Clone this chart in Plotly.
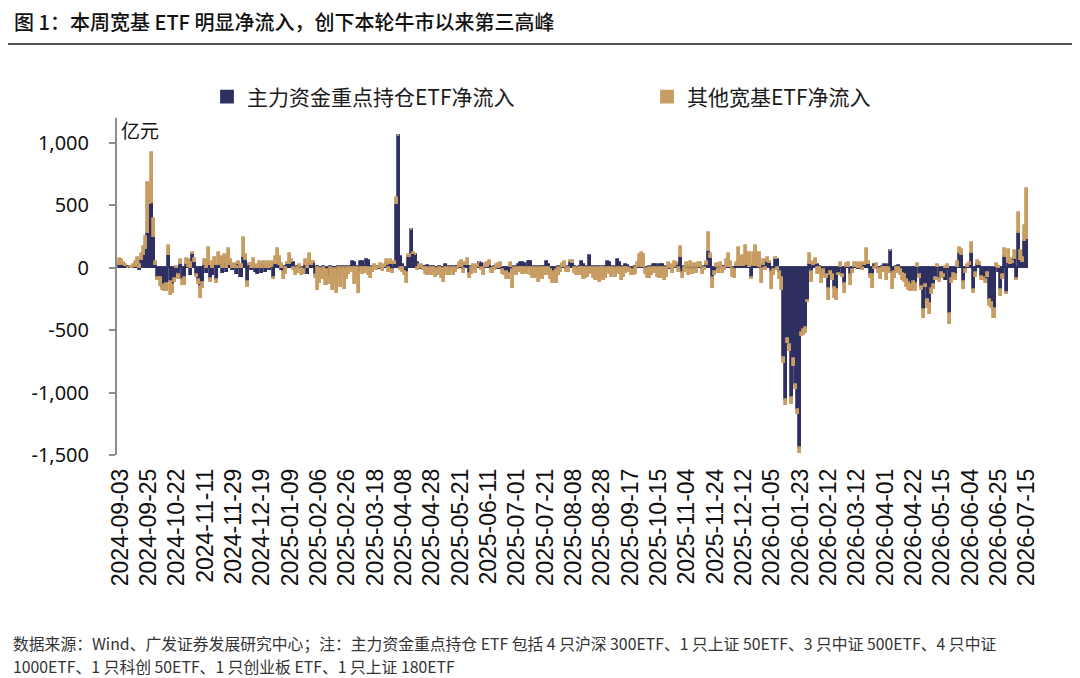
import plotly.graph_objects as go

# daily net inflow, 100m CNY (亿元), one value per trading day from 2024-09-03
main_etf = [
    25, 30, 20, 15, 10, 5, -5, 5, 10, 30,
    -20, 60, 100, 150, 280, 510, 520, 250, 20, -80,
    -80, -150, -140, -130, 105, -110, -140, -90, -30, -60,
    30, -100, -80, 30, 10, -60, 110, 50, -60, -100,
    -150, -120, 20, -40, 20, -90, -60, 20, -100, 20,
    30, -40, 40, -30, 30, 20, -20, 10, -50, 30,
    -70, 90, 60, -110, 20, -20, 10, -30, -50, 15,
    -40, 20, -30, 10, -20, 10, -80, 30, 40, 20,
    -20, -30, 10, 30, 30, 50, 40, -20, 10, 5,
    -10, -20, 20, -50, 30, 20, 40, -60, 10, -10,
    -30, 10, -20, -70, 10, -20, -10, -30, 10, -20,
    10, -20, 5, -10, 10, 45, 40, 10, -30, 50,
    50, 10, 60, 55, -10, 10, -5, 10, -10, 10,
    -5, 10, 20, 10, 30, -20, 30, 510, 1055, 90,
    20, -30, -40, 90, 300, 110, 100, 40, 10, -10,
    10, 10, 15, -10, 10, 5, -10, -20, 10, -10,
    -20, 25, 10, -15, 10, -10, 5, 10, 10, 5,
    -10, 20, 20, -50, 10, -10, 10, 10, 35, 30,
    -10, 10, 5, 20, -10, 10, 5, -10, 10, -20,
    -40, -30, -50, 10, -20, 10, -10, 20, 35, 40,
    30, -10, 50, 45, -10, 10, -10, 5, -10, 10,
    5, 45, 20, -20, -40, -30, -20, 10, -10, 10,
    10, -10, 10, 45, 40, 10, -10, 10, 45, 20,
    10, -10, 95, 10, -10, 5, -10, 10, -5, 10,
    -10, 50, 40, -10, 10, -20, 60, 40, -10, 10,
    20, 15, -10, -20, -30, 10, 10, 20, 10, 10,
    -10, -20, 10, -10, 25, 25, -10, 25, 20, -10,
    10, 10, -10, 10, 10, 20, 20, 85, -40, 10,
    5, -10, 10, -10, 10, -10, 10, 5, -10, 10,
    20, 135, 80, -80, -30, 10, -10, 10, 5, 10,
    10, 10, 10, -10, -20, 15, 20, 15, 15, 20,
    20, 10, -80, 15, 20, 15, 10, -10, 20, 55,
    50, 40, -30, -20, 70, 60, -30, -80, -720, -1060,
    -570, -620, -1040, -730, -940, -1140, -1445, -520, -500, -480,
    -265, 30, -30, 20, 30, 20, 10, -40, -20, -60,
    -170, -30, -60, -160, -180, -50, 10, -60, -130, 10,
    10, -60, -20, 10, 10, -10, 15, 30, 20, 40,
    30, -60, -60, 25, 10, -10, -20, 10, 20, 10,
    20, 135, -40, -30, 10, 15, -20, -50, -60, -100,
    -120, -140, -110, -130, 10, -60, -150, -340, -140, -260,
    -290, -170, -140, -80, 10, -90, -40, -60, -100, -20,
    -370, -90, -50, -60, 10, 120, 100, -110, -20, 10,
    20, 120, -180, -40, 25, 20, -70, -80, -100, -40,
    -260, -280, -330, 10, -30, -180, -60, 85, -200, 40,
    30, 40, 70, -90, 280, 60, 50, 215, 230,
]

other_etf = [
    45, 30, 20, 10, -5, 5, 10, 20, 40, 50,
    20, 50, 70, 100, 400, 160, 400, 140, 30, -20,
    -65, -30, -50, -60, 70, -110, -60, -20, 10, -30,
    30, -40, -60, 40, 50, 40, 10, 20, -10, -30,
    -90, -40, 40, 60, 140, -20, 50, 60, -20, 100,
    60, 80, 60, 90, 120, 40, 30, 20, 10, 20,
    20, 150, 40, -40, 10, 30, 60, 20, 10, 30,
    10, 30, 20, 40, 20, 40, -10, 60, 110, 70,
    30, -60, -50, 10, 80, 10, -20, -40, -40, 20,
    -50, -30, 40, 20, 80, 30, 10, -20, -180, -110,
    -60, -90, -120, -40, -130, -160, -110, -170, -80, -130,
    -60, -150, -90, -40, -20, -30, -130, -80, -170, -20,
    -50, -40, -10, -60, -70, -30, 20, -20, 10, 20,
    -20, 10, 40, -30, 30, -20, 20, 50, 0, -20,
    -30, -30, -80, 10, 0, 10, 0, -20, 10, 20,
    -20, -50, -60, -40, -55, -30, -60, -40, -50, -70,
    -90, -30, -60, -40, -20, -50, -30, -10, 30, 50,
    -30, 20, 50, -30, -50, 20, -40, 10, 5, -20,
    -50, 20, 30, 35, -30, -20, 20, 30, 25, -30,
    -20, -60, -40, 25, -140, -40, -50, -30, -20, -50,
    -30, -40, -20, -60, -70, -80, -60, -110, -70, -90,
    -60, -30, -60, -70, -80, -90, -100, -60, -20, 20,
    35, -20, -30, 10, 15, -40, -50, -40, -60, -90,
    -80, -60, -40, -50, -70, -100, -90, -110, -80, -100,
    -70, -30, -50, -60, -40, -50, -30, -50, -90, -70,
    -40, -30, -20, -40, -30, -50, 30, 80, 110, 90,
    -40, -60, -80, -50, -30, -40, -60, -80, -60, -90,
    -70, 30, 20, -40, 40, 20, -30, 80, -40, -30,
    30, -50, 40, -40, 20, -30, 30, 30, -40, -20,
    30, 140, 30, -80, -30, 20, -30, 30, -40, -20,
    50, 100, 40, -60, -60, 20, 140, 60, 80, 155,
    100, 110, -10, 100, 155, 100, 110, -110, 40, -20,
    30, 10, -140, -40, 10, -20, -60, -100, -40, -40,
    -30, -50, -55, -60, -30, -35, -35, -30, -40, -40,
    -10, 80, -80, 30, 40, -50, -40, -80, -30, -20,
    -90, -30, -40, -80, -80, -10, 30, -10, -70, 20,
    30, -80, -20, 30, 25, 30, 20, -20, 20, 110,
    20, -20, -100, -10, 20, -30, -70, -30, -30, -100,
    -40, 0, -130, -50, -40, -30, -40, -50, -50, -50,
    -60, -50, -60, -60, 20, -20, -30, -60, -10, -60,
    -80, -40, -30, -20, 10, -20, -40, -10, 10, 20,
    -80, -30, -40, -40, 40, 40, 40, -60, -20, 15,
    20, 80, -20, -30, 30, 15, -30, -20, -20, -30,
    -50, -40, -70, 20, 10, -45, -30, 65, -10, 100,
    40, 10, 66, -10, 160, 76, 30, 120, 400,
]

tick_labels = [
    "2024-09-03", "2024-09-25", "2024-10-22", "2024-11-11", "2024-11-29",
    "2024-12-19", "2025-01-09", "2025-02-06", "2025-02-26", "2025-03-18",
    "2025-04-08", "2025-04-28", "2025-05-21", "2025-06-11", "2025-07-01",
    "2025-07-21", "2025-08-08", "2025-08-28", "2025-09-17", "2025-10-15",
    "2025-11-04", "2025-11-24", "2025-12-12", "2026-01-05", "2026-01-23",
    "2026-02-12", "2026-03-12", "2026-04-01", "2026-04-22", "2026-05-15",
    "2026-06-04", "2026-06-25", "2026-07-15",
]
label_step = 14  # one date label every 14 trading days

y_ticks = [-1500, -1000, -500, 0, 500, 1000]
y_tick_text = ["-1,500", "-1,000", "-500", "0", "500", "1,000"]

NAVY = "#2D3061"
TAN = "#C89D63"
GREY = "#8C8C8C"

# the page body has an 8px margin, so the figure is drawn 8px in from the window corner
OFF = 8
W, H = 1080 - OFF, 678 - OFF
ML, MR, MT, MB = 117 - OFF, 43, 118 - OFF, 223
PW, PH = W - ML - MR, H - MT - MB
Y_MIN, Y_MAX = -1500, 1200


def px_x(px):
    return (px - OFF - ML) / PW


def px_y(py):
    return (H - MB - (py - OFF)) / PH


days = list(range(len(main_etf)))

fig = go.Figure()
fig.add_trace(go.Bar(x=days, y=main_etf, name="主力资金重点持仓ETF净流入", legend="legend",
                     marker=dict(color=NAVY, line=dict(color=NAVY, width=1.8))))
fig.add_trace(go.Bar(x=days, y=other_etf, name="其他宽基ETF净流入", legend="legend2",
                     marker=dict(color=TAN, line=dict(color=TAN, width=1.8))))

legend_font = dict(family="Noto Sans CJK SC", size=21, color="#1a1a1a")
x_range = [-1.5, 453]
fig.update_layout(
    width=W, height=H, autosize=False, showlegend=True,
    margin=dict(l=ML, r=MR, t=MT, b=MB, autoexpand=False),
    paper_bgcolor="white", plot_bgcolor="white",
    barmode="relative", bargap=0,
    font=dict(family="Noto Sans CJK SC", color="#1a1a1a"),
    title=dict(text="图 1：本周宽基 ETF 明显净流入，创下本轮牛市以来第三高峰",
               xref="container", yref="container", x=(14 - OFF) / W, y=1 - (23 - OFF) / H,
               xanchor="left", yanchor="middle",
               font=dict(family="Noto Sans CJK SC", size=20, color="#111111", weight=500)),
    legend=dict(orientation="h", xref="paper", yref="paper", visible=True,
                x=px_x(207), y=px_y(97), xanchor="left", yanchor="middle",
                bgcolor="rgba(0,0,0,0)", font=legend_font),
    legend2=dict(orientation="h", xref="paper", yref="paper", visible=True,
                 x=px_x(647), y=px_y(97), xanchor="left", yanchor="middle",
                 bgcolor="rgba(0,0,0,0)", font=legend_font),
    xaxis=dict(range=x_range, showline=False, showgrid=False, zeroline=False,
               automargin=False,
               tickmode="array", tickvals=[i * label_step for i in range(len(tick_labels))],
               ticktext=tick_labels, tickangle=-90, ticks="", ticklabelstandoff=8,
               tickfont=dict(family="Liberation Sans", size=23, color="#111111")),
    xaxis2=dict(range=x_range, overlaying="x", anchor="free", automargin=False,
                position=(0 - Y_MIN) / (Y_MAX - Y_MIN), side="bottom",
                showline=True, linecolor=GREY, linewidth=2.5, showgrid=False, zeroline=False,
                ticks="outside", ticklen=6, tickwidth=2, tickcolor=GREY,
                tickmode="linear", tick0=18, dtick=20, showticklabels=False),
    yaxis=dict(range=[Y_MIN, Y_MAX], showline=True, linecolor=GREY, linewidth=2,
               automargin=False,
               showgrid=False, zeroline=False, ticks="outside", ticklen=6, tickwidth=2,
               tickcolor=GREY, tickmode="array", tickvals=y_ticks, ticktext=y_tick_text,
               ticklabelstandoff=16,
               tickfont=dict(family="Noto Sans", size=20, color="#111111")),
    shapes=[dict(type="line", xref="paper", yref="paper",
                 x0=px_x(0), x1=px_x(1080), y0=px_y(44), y1=px_y(44),
                 line=dict(color="#555555", width=2))],
    annotations=[
        dict(text="亿元", xref="paper", yref="paper", x=px_x(119), y=px_y(129),
             xanchor="left", yanchor="middle", showarrow=False,
             font=dict(family="Noto Sans CJK SC", size=19, color="#111111")),
        dict(text="数据来源：Wind、广发证券发展研究中心；注：主力资金重点持仓 ETF 包括 4 只沪深 300ETF、1 只上证 50ETF、3 只中证 500ETF、4 只中证",
             xref="paper", yref="paper", x=px_x(11), y=px_y(643),
             xanchor="left", yanchor="middle", showarrow=False,
             font=dict(family="Noto Sans CJK SC", size=15.8, color="#333333")),
        dict(text="1000ETF、1 只科创 50ETF、1 只创业板 ETF、1 只上证 180ETF",
             xref="paper", yref="paper", x=px_x(11), y=px_y(666),
             xanchor="left", yanchor="middle", showarrow=False,
             font=dict(family="Noto Sans CJK SC", size=15.8, color="#333333")),
    ],
)

fig.write_html("out.html")
